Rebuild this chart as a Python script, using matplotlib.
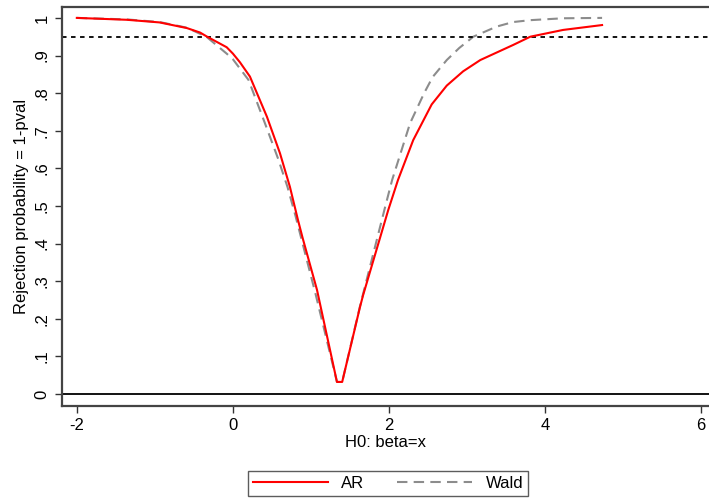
import matplotlib
matplotlib.use("Agg")
import matplotlib.pyplot as plt

plt.rcParams["font.family"] = ["Liberation Sans", "DejaVu Sans"]

# values
ar_x = [-2.0, -1.36, -0.94, -0.59, -0.42, -0.33, -0.08, 0.0, 0.09, 0.218, 0.436, 0.603, 0.73,
        0.833, 0.893, 1.077, 1.333, 1.40, 1.628, 1.667, 1.99, 2.115, 2.31, 2.547, 2.74,
        2.95, 3.17, 3.59, 3.81, 4.23, 4.73]
ar_y = [1.0, 0.995, 0.988, 0.973, 0.961, 0.950, 0.922, 0.905, 0.882, 0.844, 0.737, 0.64, 0.551,
        0.463, 0.415, 0.277, 0.032, 0.032, 0.231, 0.262, 0.489, 0.569, 0.675, 0.77, 0.82,
        0.858, 0.888, 0.928, 0.950, 0.968, 0.981]
wald_x = [-2.0, -1.36, -0.94, -0.59, -0.34, -0.08, 0.0, 0.2, 0.41, 0.58, 0.70, 0.80, 1.06,
          1.333, 1.40, 1.63, 1.95, 2.04, 2.27, 2.45, 2.56, 2.74, 2.9, 3.08, 3.38, 3.59,
          3.81, 4.23, 4.73]
wald_y = [1.0, 0.996, 0.989, 0.974, 0.950, 0.905, 0.89, 0.835, 0.72, 0.625, 0.55, 0.475, 0.265,
          0.032, 0.032, 0.235, 0.497, 0.569, 0.72, 0.80, 0.843, 0.888, 0.92, 0.950, 0.977, 0.989,
          0.994, 0.999, 1.0]
level = 0.95
xticks = [-2, 0, 2, 4, 6]
yticks = [0, .1, .2, .3, .4, .5, .6, .7, .8, .9, 1]
ylabels = ["0", ".1", ".2", ".3", ".4", ".5", ".6", ".7", ".8", ".9", "1"]

fig = plt.figure(figsize=(7.09, 5.04), dpi=100)
ax = fig.add_axes([62/709, 1-406/504, (709-62)/709, (406-7)/504])
ax.plot(ar_x, ar_y, color="#ff0000", lw=1.5, label="AR", zorder=3)
ax.plot(wald_x, wald_y, color="#8c8c8c", lw=1.5, ls=(0, (5, 3)), label="Wald", zorder=2)
ax.axhline(level, color="black", lw=1.3, ls=(0, (2.5, 2.5)))
ax.axhline(0, color="black", lw=1.3)

ax.set_xlim(-2.19, 6.10); ax.set_ylim(-0.032, 1.029)
ax.set_xticks(xticks); ax.set_xticklabels([str(t) for t in xticks])
ax.set_yticks(yticks); ax.set_yticklabels(ylabels, rotation=90, va="center")
ax.tick_params(labelsize=12, length=5, width=1, color="#333333", pad=4)
for s in ["left", "top", "bottom"]:
    ax.spines[s].set_color("#444444"); ax.spines[s].set_linewidth(1.6)
ax.spines["right"].set_visible(False)
ax.set_xlabel("H0: beta=x", fontsize=12, labelpad=1)
ax.set_ylabel("Rejection probability = 1-pval", fontsize=12, labelpad=4)

leg = fig.legend(loc="lower center", bbox_to_anchor=(388/709, 0.0), ncol=2, fontsize=12,
                 frameon=True, fancybox=False, edgecolor="#333333", handlelength=4.5,
                 columnspacing=2.0, borderpad=0.3)
leg.get_frame().set_linewidth(1.0)
fig.savefig("out.png", dpi=100)
